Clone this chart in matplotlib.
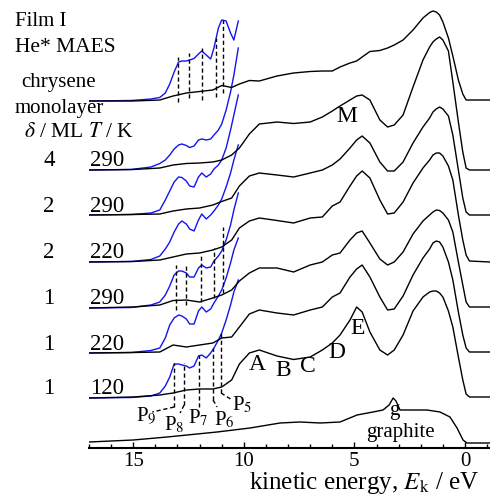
import matplotlib
matplotlib.use('Agg')
import matplotlib.pyplot as plt
from matplotlib.ticker import MultipleLocator

plt.rcParams['font.family'] = ['Liberation Serif', 'DejaVu Serif']
plt.rcParams['mathtext.fontset'] = 'stix'

W, H = 490, 496

# ---- data -------------------------------------------------------------
# kinetic energy grid (eV) for the full-range (black) spectra
E_black = [17.0, 15.0, 13.8, 13.2, 12.6, 12.0, 11.4, 11.0, 10.55, 10.2, 9.75, 9.3,
           8.5, 7.75, 7.0, 6.45, 6.0, 5.65, 5.2, 4.9, 4.65, 4.3, 3.85, 3.5, 3.2,
           2.8, 2.35, 1.9, 1.6, 1.45, 1.3, 1.15, 1.0, 0.75, 0.55, 0.3, 0.1, -0.05,
           -0.2, -1.13]

I_mono = [0, 0, 1, 5, 8, 9.5, 11, 15.5, 13.5, 17, 20.5, 20, 25, 28, 29.5, 30, 30, 34,
          38, 40, 44, 49.5, 50.5, 53, 56, 61, 71, 83, 88.5, 90, 89, 86, 79, 63, 45,
          21, 7, 1, 1, 1]
I_4_290 = [0, 0.5, 2, 5, 6.5, 7, 8, 10, 15, 22, 36, 46, 48, 46.5, 48, 53, 59, 64, 70,
           74, 75, 70, 50, 43, 45, 55, 83, 110, 123, 128, 131, 133, 130, 119, 88, 48,
           18, 2, 0, 0]
I_2_290 = [0, 0.5, 1, 4, 6, 7, 10, 13.5, 17, 29, 39, 42, 40, 38, 42, 45, 50, 56, 67,
           75, 79, 72, 53, 44, 44, 53, 72, 88, 97, 103, 106, 108, 106, 99, 80, 45,
           17, 3, 0, 0]
I_2_220 = [0, 0.5, 2, 5, 8, 9, 12, 15, 22, 34, 41, 44, 41.5, 39, 44, 45, 56, 60, 76,
           86, 91, 84, 62, 48, 49, 60, 79, 94, 102, 107, 109, 109, 106, 96, 82, 47,
           22, 7, 1, 0]
I_1_290 = [0, 1, 3, 7.5, 8, 6, 10, 13, 18, 27, 35, 40, 40, 36, 43, 46, 53, 55, 68,
           75, 77, 65, 49, 43, 46, 56, 74, 87, 93, 96, 98, 97.5, 95, 88, 76, 46, 23,
           6, 1, 1]
I_1_220 = [0, 0.5, 1, 8, 6, 8, 10, 15, 16, 26, 39, 43, 40, 38, 43, 46, 56, 60, 76,
           84, 88, 76, 56, 43, 44, 57, 78, 95, 104, 110, 112, 111, 106, 91, 73, 41,
           18, 5, 1, 1]
I_1_120 = [0, 1, 3, 5, 8, 9, 9, 11, 18, 34, 45, 48, 42, 38.5, 41, 48, 55, 63, 78,
           91, 86, 66, 48, 43, 48, 63, 87, 101, 106, 107, 107, 105, 101, 87, 71, 41,
           18, 4, 1, 1]

# magnified (blue) part of the spectra
E_blue = [17.0, 15.1, 14.2, 13.8, 13.55, 13.35, 13.15, 12.95, 12.8, 12.6, 12.45, 12.25,
          12.05, 11.9, 11.7, 11.5, 11.35, 11.15, 11.0, 10.8, 10.6, 10.45, 10.25]
B_mono = [0, 0.5, 2, 3.5, 8, 17, 29, 39, 40, 40, 41, 42.5, 47, 50, 46, 42, 53, 73, 81, 80, 68, 61, 80]
B_4_290 = [0, 0.5, 3, 6.5, 10, 15, 21, 25, 26, 24.5, 22.5, 24, 30, 31, 30, 31, 35, 40, 46, 60, 78, 95, 122]
B_2_290 = [0, 0.5, 2, 5, 15, 24, 33, 38, 37.5, 34, 29, 28, 38, 42, 38, 41, 46, 50, 55, 67, 85, 100, 120]
B_2_220 = [0, 0.5, 2.5, 6, 13, 20, 30, 38, 41, 38, 33, 31, 42, 48, 43, 47, 51, 57, 63, 75, 89, 102, 117]
B_1_290 = [0, 0.5, 3, 6, 13, 22, 33, 37, 37, 35, 31, 31, 40, 43, 40, 41, 47, 52, 57, 68, 83, 98, 115]
B_1_220 = [0, 0.5, 2.5, 5, 15, 28, 35, 38, 37, 34, 29, 29, 42, 46, 41, 44, 50, 57, 63, 75, 90, 103, 115]
B_1_120 = [0, 0.5, 2, 5, 12, 21, 34, 34, 33, 32, 30, 32, 42, 43, 40, 45, 50, 58, 65, 78, 93, 106, 118]

# graphite reference
E_graph = [17.0, 15.0, 13.47, 12.56, 11.21, 9.72, 8.36, 7.46, 6.55, 5.65, 4.88, 4.16, 3.71,
           3.43, 3.25, 3.12, 2.94, 2.35, 1.72, 1.13, 0.68, 0.36, 0.09, -0.09, -1.13]
I_graph = [1, 3, 6, 8, 11, 15, 20, 21, 20, 21, 28, 31, 33, 38, 45, 42, 33, 33, 33, 31, 26, 15, 3, 0, 0]

thick = ['4', '2', '2', '1', '1', '1']
temps = ['290', '290', '220', '290', '220', '120']
black_series = [I_4_290, I_2_290, I_2_220, I_1_290, I_1_220, I_1_120]
blue_series = [B_4_290, B_2_290, B_2_220, B_1_290, B_1_220, B_1_120]
offsets = [278, 233, 186, 140, 95, 50]
mono_offset = 347
graph_offset = 5

# peak markers P9..P5 (eV) and vertical extents
P_names = ['9', '8', '7', '6', '5']
P_mono = [12.97, 12.47, 11.88, 11.25, 10.94]
P_mono_top = [391, 395, 400, 410, 428]
P_mono_bot = [346, 350, 348, 351, 355]
P_1290 = [13.06, 12.61, 11.93, 11.34, 10.94]
P_1290_top = [183, 183, 193, 200, 221]
P_1290_bot = [138, 143, 146, 150, 155]
P_1120 = [13.15, 12.70, 12.02, 11.39, 11.03]
P_1120_top = [85, 85, 93, 100, 115]
P_1120_bot = [41, 43, 41, 48, 55]
lead_end_E = [14.14, 12.88, 12.02, 11.21, 10.53]
lead_end_y = [36, 35, 41, 41, 48]
Plab_E = [14.41, 13.15, 12.07, 10.89, 10.08]
Plab_y = [32, 23, 30, 28, 43]

# ---- figure -----------------------------------------------------------
fig = plt.figure(figsize=(W / 100, H / 100), dpi=100)
ax = fig.add_axes([89 / W, 48 / H, 401 / W, 448 / H])
ax.set_xlim(17.0, -1.13)
ax.set_ylim(0, 448)

blue = '#1414ee'
lw = 1.0

# blue magnified traces first
ax.plot(E_blue, [mono_offset + v for v in B_mono], color=blue, lw=lw, zorder=2)
for b, off in zip(blue_series, offsets):
    ax.plot(E_blue, [off + v for v in b], color=blue, lw=lw, zorder=2)

# black traces
ax.plot(E_black, [mono_offset + v for v in I_mono], color='black', lw=lw, zorder=3)
for s, off in zip(black_series, offsets):
    ax.plot(E_black, [off + v for v in s], color='black', lw=lw, zorder=3)
ax.plot(E_graph, [graph_offset + v for v in I_graph], color='black', lw=lw, zorder=3)

# dashed peak markers
dash = dict(color='black', lw=1.0, ls=(0, (3, 2)), zorder=4)
for e, t, b in zip(P_mono, P_mono_top, P_mono_bot):
    ax.plot([e, e], [b, t], **dash)
for e, t, b in zip(P_1290, P_1290_top, P_1290_bot):
    ax.plot([e, e], [b, t], **dash)
for e, t, b, le, ly in zip(P_1120, P_1120_top, P_1120_bot, lead_end_E, lead_end_y):
    ax.plot([e, e], [b, t], **dash)
    if le != e:
        ax.plot([e, le], [b, ly], **dash)

fs = 15
for n, e, y in zip(P_names, Plab_E, Plab_y):
    ax.text(e, y, r'P$_{%s}$' % n, fontsize=fs, ha='center', va='center')

# band labels
ax.text(5.33, 331, 'M', fontsize=17, ha='center', va='center')
for lab, e, y in zip(['A', 'B', 'C', 'D', 'E'],
                     [9.40, 8.22, 7.09, 5.78, 4.84],
                     [83, 78, 81, 95, 120]):
    ax.text(e, y, lab, fontsize=17, ha='center', va='center')
ax.text(3.21, 37, 'g', fontsize=fs, ha='center', va='center')
ax.text(2.94, 16, 'graphite', fontsize=fs, ha='center', va='center')

# axes styling
for sp in ['left', 'right', 'top']:
    ax.spines[sp].set_visible(False)
ax.spines['bottom'].set_linewidth(1.5)
ax.set_yticks([])
ax.xaxis.set_major_locator(MultipleLocator(5))
ax.xaxis.set_minor_locator(MultipleLocator(1))
ax.tick_params(axis='x', which='major', direction='in', length=4.5, width=1.0,
               labelsize=fs, pad=3)
ax.tick_params(axis='x', which='minor', direction='in', length=3, width=1.0)
ax.set_xticks([15, 10, 5, 0])
ax.set_xticklabels(['15', '10', '5', '0'])

def ftext(x, y, s, size=fs, va='center', **kw):
    fig.text(x / W, 1 - y / H, s, fontsize=size, va=va, **kw)

ftext(364, 489, r'kinetic energy, $E_{\mathrm{k}}$ / eV', size=18, va='baseline',
      ha='center')
ftext(15, 22, 'Film I', ha='left')
ftext(15, 47, 'He* MAES', size=15.5, ha='left')
ftext(59, 83, 'chrysene', ha='center')
ftext(59, 108, 'monolayer', ha='center')
ftext(24, 133, r'$\delta$ / ML $T$ / K', size=15.5, ha='left')
for d, t, off in zip(thick, temps, offsets):
    ypx = 448 - off - 9
    ftext(49, ypx, d, size=16.5, ha='center')
    ftext(90, ypx, t, size=16.5, ha='left')

fig.savefig('out.png', dpi=100)
